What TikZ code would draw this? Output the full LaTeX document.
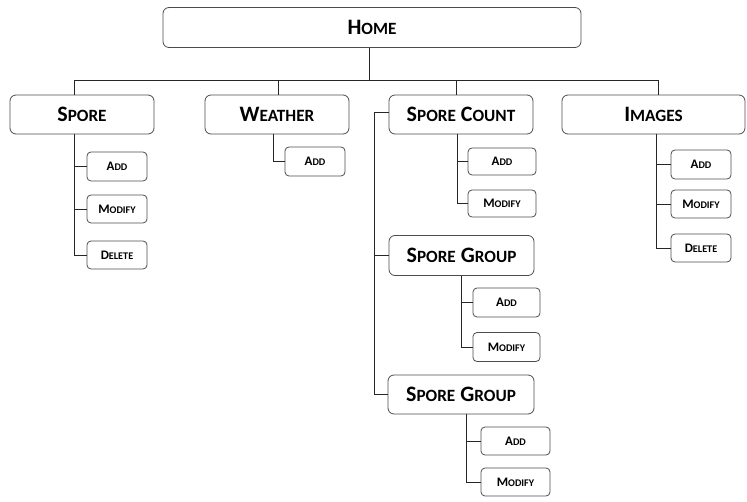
\documentclass[tikz,border=0pt]{standalone}
\usepackage{fontspec}
\setmainfont{Carlito}
\newcommand\bigsc[2]{{\fontsize{22}{24}\selectfont #1\fontsize{17.2}{24}\selectfont #2}}
\newcommand\bigsp{{\fontsize{22}{24}\selectfont\ }}
\newcommand\smallsc[2]{{\fontsize{13}{14}\selectfont #1\fontsize{10.2}{14}\selectfont #2}}
\begin{document}
\begin{tikzpicture}[x=1pt,y=-1pt,
  bigbox/.style={draw=black!70, line width=0.8pt, rounded corners=6pt, minimum height=39pt, inner sep=0pt, font=\bfseries},
  smallbox/.style={draw=black!70, line width=0.8pt, rounded corners=4pt, minimum height=28pt, inner sep=0pt, font=\bfseries},
  conn/.style={draw=black!85, line width=0.8pt}]
\useasboundingbox (0,0) rectangle (747,502);
% top level
\node[bigbox, minimum width=418pt, minimum height=40pt] (home) at (372,27.5) {\bigsc{H}{OME}};
\node[bigbox, minimum width=144pt] (spore) at (82,114.5) {\bigsc{S}{PORE}};
\node[bigbox, minimum width=144pt] (weather) at (277,114.5) {\bigsc{W}{EATHER}};
\node[bigbox, minimum width=144pt] (count) at (461,114.5) {\bigsc{S}{PORE}\bigsp\bigsc{C}{OUNT}};
\node[bigbox, minimum width=183pt] (images) at (653.5,114.5) {\bigsc{I}{MAGES}};
\node[bigbox, minimum width=145pt, minimum height=40pt] (sgA) at (461.5,255.5) {\bigsc{S}{PORE}\bigsp\bigsc{G}{ROUP}};
\node[bigbox, minimum width=146pt] (sgB) at (461,394.5) {\bigsc{S}{PORE}\bigsp\bigsc{G}{ROUP}};
% spore children
\node[smallbox, minimum width=60pt, minimum height=29pt] (sadd) at (117,166.5) {\smallsc{A}{DD}};
\node[smallbox, minimum width=60pt] (smod) at (117,209) {\smallsc{M}{ODIFY}};
\node[smallbox, minimum width=60pt] (sdel) at (117,255) {\smallsc{D}{ELETE}};
% weather child
\node[smallbox, minimum width=60pt, minimum height=29pt] (wadd) at (315,161.5) {\smallsc{A}{DD}};
% count children
\node[smallbox, minimum width=68pt, minimum height=27pt] (cadd) at (502,161.5) {\smallsc{A}{DD}};
\node[smallbox, minimum width=68pt, minimum height=27pt] (cmod) at (502,203.5) {\smallsc{M}{ODIFY}};
% images children
\node[smallbox, minimum width=60pt, minimum height=29pt] (iadd) at (701,164.5) {\smallsc{A}{DD}};
\node[smallbox, minimum width=60pt] (imod) at (701,204) {\smallsc{M}{ODIFY}};
\node[smallbox, minimum width=60pt] (idel) at (701,248) {\smallsc{D}{ELETE}};
% spore group A children
\node[smallbox, minimum width=67pt, minimum height=29pt] (gaadd) at (506.5,302.5) {\smallsc{A}{DD}};
\node[smallbox, minimum width=67pt, minimum height=29pt] (gamod) at (506.5,347) {\smallsc{M}{ODIFY}};
% spore group B children
\node[smallbox, minimum width=69pt] (gbadd) at (515.5,441) {\smallsc{A}{DD}};
\node[smallbox, minimum width=69pt] (gbmod) at (515.5,482) {\smallsc{M}{ODIFY}};
% connectors: top bus
\draw[conn] ([xshift=-3pt]home.south) -- ++(0,33);
\draw[conn] ([xshift=-8pt]spore.north) -- ++(0,-14.5) -| ([xshift=4.5pt]images.north);
\draw[conn] ([xshift=1pt]weather.north) -- ++(0,-14.5);
\draw[conn] ([xshift=-5pt]count.north) -- ++(0,-14.5);
% spore
\draw[conn] ([xshift=-8pt]spore.south) |- (sadd.west);
\draw[conn] ([xshift=-8pt]spore.south) |- (smod.west);
\draw[conn] ([xshift=-8pt]spore.south) |- (sdel.west);
% weather
\draw[conn] ([xshift=-4pt]weather.south) |- (wadd.west);
% count
\draw[conn] ([xshift=-4pt]count.south) |- (cadd.west);
\draw[conn] ([xshift=-4pt]count.south) |- (cmod.west);
% images
\draw[conn] ([xshift=2.5pt]images.south) |- (iadd.west);
\draw[conn] ([xshift=2.5pt]images.south) |- (imod.west);
\draw[conn] ([xshift=2.5pt]images.south) |- (idel.west);
% count to spore groups
\draw[conn] ([yshift=2.5pt]count.west) -- ++(-14,0) |- (sgA.west);
\draw[conn] ([yshift=2.5pt]count.west) -- ++(-14,0) |- (sgB.west);
% spore group A
\draw[conn] (sgA.south) |- (gaadd.west);
\draw[conn] (sgA.south) |- (gamod.west);
% spore group B
\draw[conn] ([xshift=5pt]sgB.south) |- (gbadd.west);
\draw[conn] ([xshift=5pt]sgB.south) |- (gbmod.west);
\end{tikzpicture}
\end{document}
